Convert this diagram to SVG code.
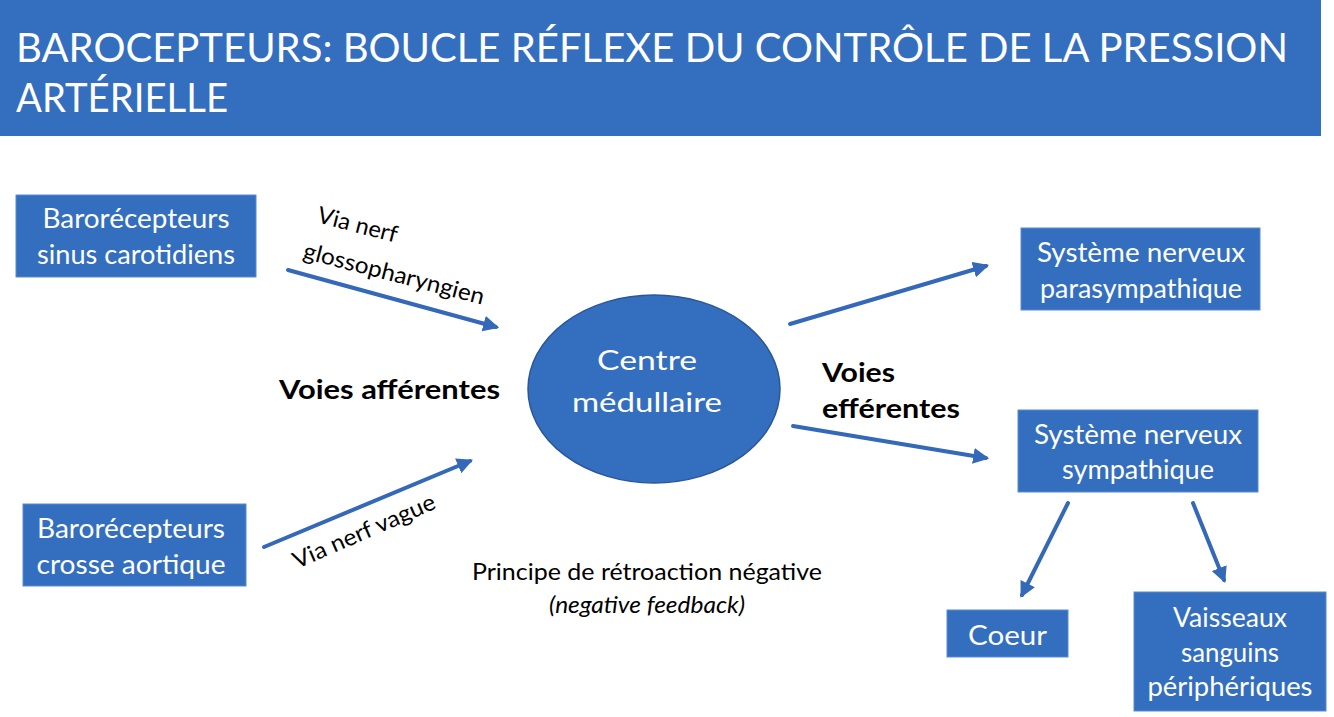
<svg xmlns="http://www.w3.org/2000/svg" width="1334" height="717" viewBox="0 0 1334 717">
<style>
.box{fill:#346EBF;stroke:#5A8AD0;stroke-width:1}
.wt{fill:#ffffff;font-family:Lato,"Open Sans",sans-serif;font-size:27px;text-anchor:middle}
.bt{fill:#000;font-family:Lato,"Open Sans",sans-serif;font-size:26px;font-weight:bold}
.lt{fill:#000;font-family:Lato,"Open Sans",sans-serif;font-size:23px}
.conn line{stroke:#3468B8;stroke-width:4;stroke-linecap:round;marker-end:url(#ah)}
</style>
<defs>
<marker id="ah" viewBox="0 0 10 10" refX="8" refY="5" markerWidth="4" markerHeight="4" orient="auto" markerUnits="strokeWidth">
<path d="M0,0 L10,5 L0,10 Z" fill="#3468B8"/>
</marker>
</defs>
<rect width="1334" height="717" fill="#ffffff"/>
<g id="header">
<rect x="0" y="0" width="1321" height="136" fill="#346EBF"/>
<text x="16" y="62" fill="#fff" font-family="Lato,'Open Sans',sans-serif" font-size="40" textLength="1272" lengthAdjust="spacingAndGlyphs">BAROCEPTEURS: BOUCLE RÉFLEXE DU CONTRÔLE DE LA PRESSION</text>
<text x="16" y="112" fill="#fff" font-family="Lato,'Open Sans',sans-serif" font-size="40" textLength="212" lengthAdjust="spacingAndGlyphs">ARTÉRIELLE</text>
</g>
<g id="n-sinus">
<rect class="box" x="16" y="195" width="240" height="82"/>
<text class="wt" x="136" y="228" textLength="187" lengthAdjust="spacingAndGlyphs">Barorécepteurs</text>
<text class="wt" x="136" y="264" textLength="198" lengthAdjust="spacingAndGlyphs">sinus carotidiens</text>
</g>
<g id="n-crosse">
<rect class="box" x="23" y="504" width="223" height="82"/>
<text class="wt" x="131" y="538" textLength="188" lengthAdjust="spacingAndGlyphs">Barorécepteurs</text>
<text class="wt" x="131" y="574" textLength="189" lengthAdjust="spacingAndGlyphs">crosse aortique</text>
</g>
<g id="n-centre">
<ellipse cx="654" cy="389" rx="126" ry="94" fill="#346EBF" stroke="#2B579A" stroke-width="1.5"/>
<text class="wt" x="647" y="370" font-size="32" textLength="100" lengthAdjust="spacingAndGlyphs">Centre</text>
<text class="wt" x="647" y="412" font-size="32" textLength="150" lengthAdjust="spacingAndGlyphs">médullaire</text>
</g>
<g id="n-para">
<rect class="box" x="1021" y="228" width="239" height="82"/>
<text class="wt" x="1141" y="262" textLength="208" lengthAdjust="spacingAndGlyphs">Système nerveux</text>
<text class="wt" x="1141" y="298" textLength="202" lengthAdjust="spacingAndGlyphs">parasympathique</text>
</g>
<g id="n-sym">
<rect class="box" x="1018" y="410" width="240" height="82"/>
<text class="wt" x="1138" y="444" textLength="208" lengthAdjust="spacingAndGlyphs">Système nerveux</text>
<text class="wt" x="1138" y="479" textLength="152" lengthAdjust="spacingAndGlyphs">sympathique</text>
</g>
<g id="n-coeur">
<rect class="box" x="947" y="610" width="121" height="47"/>
<text class="wt" x="1007.5" y="645" textLength="79" lengthAdjust="spacingAndGlyphs">Coeur</text>
</g>
<g id="n-vaisseaux">
<rect class="box" x="1134" y="592" width="192" height="119"/>
<text class="wt" x="1230" y="627" textLength="114" lengthAdjust="spacingAndGlyphs">Vaisseaux</text>
<text class="wt" x="1230" y="662" textLength="98" lengthAdjust="spacingAndGlyphs">sanguins</text>
<text class="wt" x="1230" y="696" textLength="165" lengthAdjust="spacingAndGlyphs">périphériques</text>
</g>
<g id="connectors" class="conn">
<line x1="288" y1="270" x2="496" y2="327"/>
<line x1="264" y1="547" x2="470" y2="461"/>
<line x1="790" y1="324" x2="986" y2="266"/>
<line x1="793" y1="426" x2="986" y2="458"/>
<line x1="1068" y1="503" x2="1022" y2="595"/>
<line x1="1193" y1="503" x2="1224" y2="580"/>
</g>
<g id="labels">
<text class="lt" transform="translate(316,222) rotate(14.5)" textLength="82" lengthAdjust="spacingAndGlyphs">Via nerf</text>
<text class="lt" transform="translate(302,258) rotate(14.5)" textLength="186" lengthAdjust="spacingAndGlyphs">glossopharyngien</text>
<text class="lt" transform="translate(297,569) rotate(-23.5)" textLength="153" lengthAdjust="spacingAndGlyphs">Via nerf vague</text>
<text class="bt" x="279" y="399" textLength="221" lengthAdjust="spacingAndGlyphs">Voies afférentes</text>
<text class="bt" x="822" y="382" textLength="73" lengthAdjust="spacingAndGlyphs">Voies</text>
<text class="bt" x="822" y="418" textLength="138" lengthAdjust="spacingAndGlyphs">efférentes</text>
<text class="lt" x="472" y="580" font-size="22" textLength="350" lengthAdjust="spacingAndGlyphs">Principe de rétroaction négative</text>
<text class="lt" x="549" y="613" font-size="22" font-style="italic" textLength="196" lengthAdjust="spacingAndGlyphs">(negative feedback)</text>
</g>
</svg>
